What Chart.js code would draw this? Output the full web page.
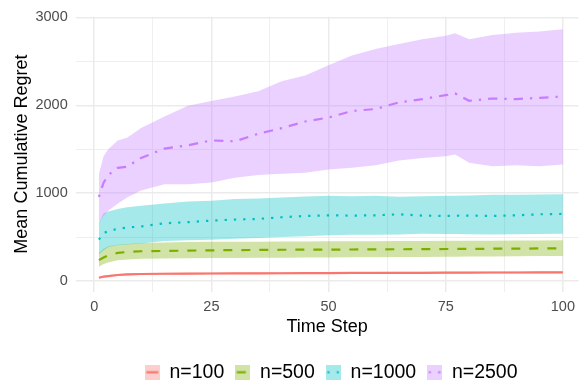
<!DOCTYPE html>
<html>
<head>
<meta charset="utf-8">
<script src="https://cdn.jsdelivr.net/npm/chart.js@4/dist/chart.umd.min.js"></script>
<style>
  html, body { margin: 0; padding: 0; background: #fff; }
</style>
</head>
<body>
<canvas id="c" width="582" height="382"></canvas>
<script>
const steps = [1, 2, 3, 5, 7, 10, 15, 20, 25, 30, 35, 40, 45, 50, 55, 60, 65, 70, 75, 77, 80, 85, 90, 95, 100];

// n=100
const n100Mean  = [37, 49, 56, 68, 74, 79, 82, 83, 85, 86, 87, 88, 89, 90, 91, 92, 93, 93, 94, 94, 95, 96, 96, 97, 98];
const n100Lower = [27, 38, 45, 57, 63, 68, 71, 72, 74, 75, 76, 77, 78, 79, 80, 81, 82, 82, 83, 83, 84, 85, 85, 86, 87];
const n100Upper = [47, 60, 67, 79, 85, 90, 93, 94, 96, 97, 98, 99, 100, 101, 102, 103, 104, 104, 105, 105, 106, 107, 107, 108, 109];

// n=500
const n500Mean  = [237, 267, 293, 319, 330, 338, 342, 345, 349, 351, 353, 355, 356, 357, 358, 360, 361, 362, 364, 364, 365, 367, 368, 370, 372];
const n500Lower = [162, 192, 211, 237, 245, 252, 256, 259, 261, 262, 263, 264, 266, 267, 269, 270, 272, 274, 276, 276, 277, 279, 281, 283, 285];
const n500Upper = [319, 368, 394, 413, 422, 432, 438, 443, 445, 446, 447, 448, 450, 451, 452, 453, 454, 455, 457, 457, 458, 459, 460, 461, 462];

// n=1000
const n1000Mean  = [470, 545, 567, 594, 608, 620, 657, 669, 687, 699, 706, 725, 740, 747, 744, 747, 759, 744, 740, 742, 744, 740, 747, 759, 763];
const n1000Lower = [300, 349, 387, 406, 415, 425, 455, 462, 470, 481, 490, 499, 510, 520, 526, 526, 530, 537, 535, 535, 532, 530, 532, 535, 537];
const n1000Upper = [650, 770, 792, 819, 840, 857, 883, 905, 913, 932, 940, 950, 960, 969, 965, 969, 958, 965, 969, 970, 972, 980, 982, 985, 988];

// n=2500
const n2500Mean  = [958, 1119, 1206, 1288, 1300, 1401, 1507, 1544, 1600, 1589, 1676, 1739, 1815, 1860, 1935, 1957, 2032, 2070, 2115, 2134, 2051, 2077, 2070, 2085, 2100];
const n2500Lower = [650, 740, 800, 880, 950, 1030, 1101, 1101, 1120, 1176, 1206, 1221, 1232, 1270, 1288, 1318, 1371, 1401, 1420, 1439, 1345, 1307, 1318, 1307, 1326];
const n2500Upper = [1217, 1420, 1500, 1600, 1630, 1740, 1871, 1995, 2048, 2100, 2160, 2273, 2340, 2455, 2566, 2640, 2697, 2750, 2790, 2821, 2750, 2800, 2826, 2840, 2866];

const seriesNames = ['n=100', 'n=500', 'n=1000', 'n=2500'];
const xTicks = [0, 12.5, 25, 37.5, 50, 62.5, 75, 87.5, 100];
const yTicks = [0, 500, 1000, 1500, 2000, 2500, 3000];

const colors = ['#F8766D', '#7CAE00', '#00BFC4', '#C77CFF'];
const fills  = ['rgba(248,118,109,0.35)', 'rgba(124,174,0,0.35)', 'rgba(0,191,196,0.35)', 'rgba(199,124,255,0.35)'];
const dashes = [[], [9, 9], [2.3, 7], [2.3, 7, 9.3, 7]];

const means  = [n100Mean, n500Mean, n1000Mean, n2500Mean];
const lowers = [n100Lower, n500Lower, n1000Lower, n2500Lower];
const uppers = [n100Upper, n500Upper, n1000Upper, n2500Upper];

const pts = arr => steps.map((t, i) => ({x: t, y: arr[i]}));

const datasets = [];
seriesNames.forEach((name, k) => {
  datasets.push({ label: name + ' lo', data: pts(lowers[k]), borderWidth: 0, pointRadius: 0, fill: false, order: 4 - k });
  datasets.push({ label: name + ' hi', data: pts(uppers[k]), borderWidth: 0, pointRadius: 0,
                  fill: '-1', backgroundColor: fills[k], order: 4 - k });
});
seriesNames.forEach((name, k) => {
  datasets.push({ label: name, data: pts(means[k]), borderColor: colors[k], borderWidth: 2.2,
                  borderDash: dashes[k], borderCapStyle: 'butt', pointRadius: 0, fill: false, order: 0 });
});

// legend keys: ribbon fill square with the line drawn through it
function makeKey(k){
  const cv = document.createElement('canvas');
  cv.width = 15; cv.height = 15;
  const g = cv.getContext('2d');
  g.fillStyle = fills[k];
  g.fillRect(0, 0, 15, 15);
  g.strokeStyle = colors[k];
  g.lineWidth = 2.2;
  g.setLineDash(dashes[k]);
  g.beginPath(); g.moveTo(1.5, 7.5); g.lineTo(13.5, 7.5); g.stroke();
  return cv;
}
const keys = seriesNames.map((n, k) => makeKey(k));

// the original panel runs a few px past the right edge, so nudge the legend to its centre
const legendNudge = {
  id: 'legendNudge',
  afterLayout(chart){
    if (chart.legend) { chart.legend.left += 4; chart.legend.right += 4; }
  }
};

const tickFont = { family: 'Liberation Sans, Arial, sans-serif', size: 14.5 };
const titleFont = { family: 'Liberation Sans, Arial, sans-serif', size: 18 };
const gridCol = '#EBEBEB';

new Chart(document.getElementById('c'), {
  type: 'line',
  data: { datasets },
  plugins: [legendNudge],
  options: {
    responsive: false, animation: false, devicePixelRatio: 1,
    layout: { padding: { left: 0, right: 0, top: 14, bottom: -10 } },
    plugins: {
      tooltip: { enabled: false },
      legend: {
        position: 'bottom', fullSize: false,
        labels: {
          font: { family: 'Liberation Sans, Arial, sans-serif', size: 19.5 },
          color: '#000', padding: 11,
          usePointStyle: true, boxWidth: 15, boxHeight: 15, pointStyleWidth: 15,
          generateLabels: () => seriesNames.map((n, k) => ({
            text: n, pointStyle: keys[k], fillStyle: 'rgba(0,0,0,0)', strokeStyle: 'rgba(0,0,0,0)',
            lineWidth: 0, hidden: false, datasetIndex: 8 + k, fontColor: '#000'
          }))
        },
        onClick: () => {}
      }
    },
    scales: {
      x: {
        type: 'linear', min: -3.95, max: 103.35,
        afterBuildTicks: s => { s.ticks = xTicks.map(v => ({ value: v })); },
        afterFit: s => { s.height = 60; },
        border: { display: false },
        grid: { color: gridCol, drawTicks: false,
                lineWidth: c => (c.tick && c.tick.value % 25 === 0) ? 1.5 : 0.8 },
        ticks: { autoSkip: false, maxRotation: 0, padding: 7, font: tickFont, color: '#4D4D4D',
                 callback: v => (v % 25 === 0 ? String(v) : '') },
        title: { display: true, text: 'Time Step', font: titleFont, color: '#000',
                 padding: { top: 0, bottom: 13.7 } }
      },
      y: {
        type: 'linear', min: -120, max: 3008,
        afterBuildTicks: s => { s.ticks = yTicks.map(v => ({ value: v })); },
        afterFit: s => { s.width = 75.7; },
        border: { display: false },
        grid: { color: gridCol, drawTicks: false,
                lineWidth: c => (c.tick && c.tick.value % 1000 === 0) ? 1.5 : 0.8 },
        ticks: { autoSkip: false, padding: 8, font: tickFont, color: '#4D4D4D',
                 callback: v => (v % 1000 === 0 ? String(v) : '') },
        title: { display: true, text: 'Mean Cumulative Regret', font: titleFont, color: '#000',
                 padding: { top: 11, bottom: 0 } }
      }
    }
  }
});
</script>
</body>
</html>
